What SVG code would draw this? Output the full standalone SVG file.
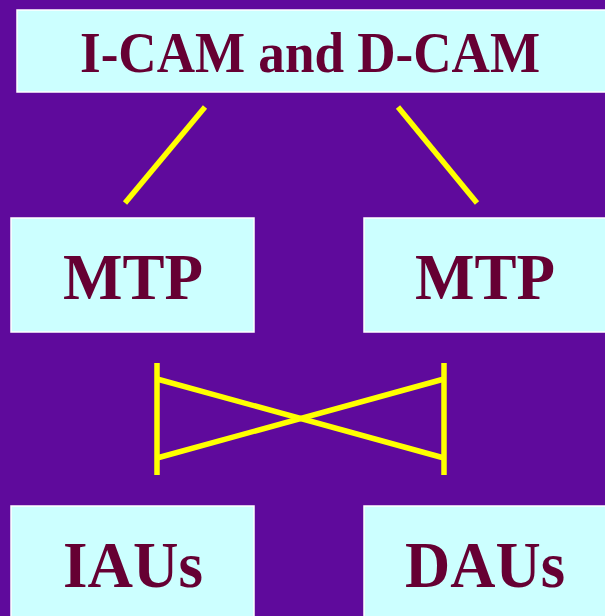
<svg xmlns="http://www.w3.org/2000/svg" width="605" height="616" viewBox="0 0 605 616">
<style>
.box{fill:#CCFFFF;stroke:#FFFFFF;stroke-width:1.5}
.lbl{font-family:"Liberation Serif","Times New Roman",serif;font-weight:bold;fill:#660033;text-anchor:middle}
.big{font-size:66px}
.top{font-size:56px}
.ln{stroke:#FFFF00;stroke-width:5.5;fill:none}
</style>
<rect width="605" height="616" fill="#5F0A9C"/>
<g id="icam">
<rect class="box" x="17" y="10" width="592" height="82"/>
<text class="lbl top" x="310" y="72" textLength="460" lengthAdjust="spacingAndGlyphs">I-CAM and D-CAM</text>
</g>
<g id="mtp1">
<rect class="box" x="11" y="218" width="243" height="114"/>
<text class="lbl big" x="133" y="299" textLength="140" lengthAdjust="spacingAndGlyphs">MTP</text>
</g>
<g id="mtp2">
<rect class="box" x="364" y="218" width="245" height="114"/>
<text class="lbl big" x="485" y="299" textLength="140" lengthAdjust="spacingAndGlyphs">MTP</text>
</g>
<g id="iaus">
<rect class="box" x="11" y="506" width="243" height="120"/>
<text class="lbl big" x="133" y="587" textLength="140" lengthAdjust="spacingAndGlyphs">IAUs</text>
</g>
<g id="daus">
<rect class="box" x="364" y="506" width="245" height="120"/>
<text class="lbl big" x="485" y="587" textLength="160" lengthAdjust="spacingAndGlyphs">DAUs</text>
</g>
<g id="connectors">
<line class="ln" x1="205" y1="107" x2="125" y2="203"/>
<line class="ln" x1="398" y1="107" x2="477" y2="203"/>
<line class="ln" x1="157" y1="363" x2="157" y2="475"/>
<line class="ln" x1="444" y1="363" x2="444" y2="475"/>
<line class="ln" x1="157" y1="379" x2="444" y2="458"/>
<line class="ln" x1="157" y1="458" x2="444" y2="379"/>
</g>
</svg>
